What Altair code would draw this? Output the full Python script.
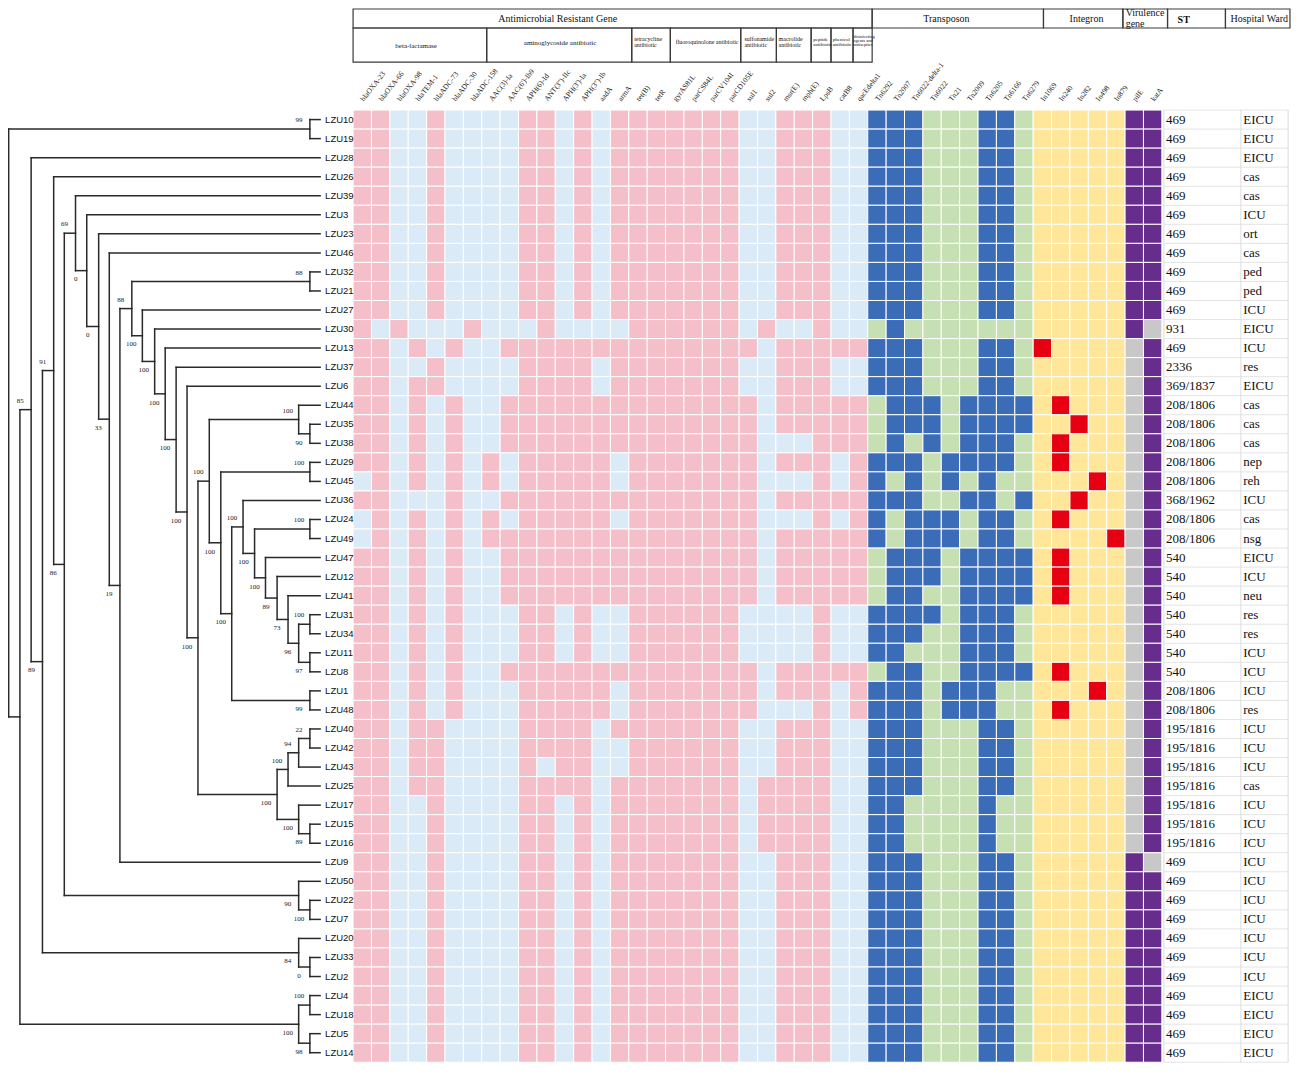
import altair as alt
import pandas as pd

# ------------------------------------------------------------------ data
strains = ["LZU10", "LZU19", "LZU28", "LZU26", "LZU39", "LZU3", "LZU23", "LZU46", "LZU32", "LZU21",
           "LZU27", "LZU30", "LZU13", "LZU37", "LZU6", "LZU44", "LZU35", "LZU38", "LZU29", "LZU45",
           "LZU36", "LZU24", "LZU49", "LZU47", "LZU12", "LZU41", "LZU31", "LZU34", "LZU11", "LZU8",
           "LZU1", "LZU48", "LZU40", "LZU42", "LZU43", "LZU25", "LZU17", "LZU15", "LZU16", "LZU9",
           "LZU50", "LZU22", "LZU7", "LZU20", "LZU33", "LZU2", "LZU4", "LZU18", "LZU5", "LZU14"]

st_types = ["469", "469", "469", "469", "469", "469", "469", "469", "469", "469",
            "469", "931", "469", "2336", "369/1837", "208/1806", "208/1806", "208/1806", "208/1806", "208/1806",
            "368/1962", "208/1806", "208/1806", "540", "540", "540", "540", "540", "540", "540",
            "208/1806", "208/1806", "195/1816", "195/1816", "195/1816", "195/1816", "195/1816", "195/1816", "195/1816", "469",
            "469", "469", "469", "469", "469", "469", "469", "469", "469", "469"]

wards = ["EICU", "EICU", "EICU", "cas", "cas", "ICU", "ort", "cas", "ped", "ped",
         "ICU", "EICU", "ICU", "res", "EICU", "cas", "cas", "cas", "nep", "reh",
         "ICU", "cas", "nsg", "EICU", "ICU", "neu", "res", "res", "ICU", "ICU",
         "ICU", "res", "ICU", "ICU", "ICU", "cas", "ICU", "ICU", "ICU", "ICU",
         "ICU", "ICU", "ICU", "ICU", "ICU", "ICU", "EICU", "EICU", "EICU", "EICU"]

arg_genes = ["blaOXA-23", "blaOXA-66", "blaOXA-98", "blaTEM-1", "blaADC-73", "blaADC-30", "blaADC-158",
             "AAC(3)-Ia", "AAC(6')-Ib9", "APH(6)-Id", "ANT(3'')-IIc", "APH(3')-Ia", "APH(3'')-Ib", "aadA",
             "armA", "tet(B)", "tetR", "gyrAS81L", "parCS84L", "parCV104I", "parCD105E", "sul1", "sul2",
             "msr(E)", "mph(E)", "LpsB", "catB8", "qacEdelta1"]
tn_genes = ["Tn6292", "Tn2007", "Tn6022-delta-1", "Tn6022", "Tn21", "Tn2009", "Tn6205", "Tn6166", "Tn6279"]
int_genes = ["In1069", "In240", "In282", "In498", "In879"]
vir_genes = ["pilE", "katA"]

# ARG classes (name lines, number of gene columns)
arg_classes = [(["beta-lactamase"], 7), (["aminoglycoside antibiotic"], 8),
               (["tetracycline", "antibiotic"], 2), (["fluoroquinolone antibiotic"], 4),
               (["sulfonamide", "antibiotic"], 2), (["macrolide", "antibiotic"], 2),
               (["peptide", "antibiotic"], 1), (["phenicol", "antibiotic"], 1),
               (["disinfecting", "agents and", "antiseptics"], 1)]

top_groups = ["Antimicrobial Resistant Gene", "Transposon", "Integron", "Virulence gene", "ST", "Hospital Ward"]

# 1 = gene present (one string per strain, in strain order)
arg_profiles = [
    "1100100001101011111110011100", "1100100001101011111110011100", "1100100001101011111110011100",
    "1100100001101011111110011100", "1100100001101011111110011100", "1100100001101011111110011100",
    "1100100001101011111110011100", "1100100001101011111110011100", "1100100001101011111110011100",
    "1100100001101011111110011100", "1100100001101011111110011100",
    "1010001000100001111110100100",  # LZU30
    "1101010011111111111111011111",  # LZU13
    "1100100001111011111110011100",  # LZU37
    "1101100001111011111110011100",  # LZU6
    "1101010011111111111111011111",  # LZU44
    "1101010011111111111111011111",  # LZU35
    "1101010011111111111111000111",  # LZU38
    "1101010101111101111111011101",  # LZU29
    "0101010101111101111111000101",  # LZU45
    "1100010011111111111111011111",  # LZU36
    "0101010101111101111111000101",  # LZU24
    "0101010111111111111111011111",  # LZU49
    "1101010011111111111111011111",  # LZU47
    "1101010011111111111111011111",  # LZU12
    "1101010011111111111111011111",  # LZU41
    "1101010001101001111110000100",  # LZU31
    "1101010001101001111110000100",  # LZU34
    "1101010001101001111110000100",  # LZU11
    "1101010011111111111111011111",  # LZU8
    "1101010001111101111111011101",  # LZU1
    "1101010001111101111111000101",  # LZU48
    "1101100001111011111110011100",  # LZU40
    "1101100001111001111110011100",  # LZU42
    "1101100001011001111110011100",  # LZU43
    "1101100001111011111110111100",  # LZU25
    "1100100001101011111110111100",  # LZU17
    "1100100001101011111110111100",  # LZU15
    "1100100001101011111110111100",  # LZU16
    "1100100001101011111110011100", "1100100001101011111110011100", "1100100001101011111110011100",
    "1100100001101011111110011100", "1100100001101011111110011100", "1100100001101011111110011100",
    "1100100001101011111110011100", "1100100001101011111110011100", "1100100001101011111110011100",
    "1100100001101011111110011100", "1100100001101011111110011100",
]

tn_profiles = [
    "111000110", "111000110", "111000110", "111000110", "111000110", "111000110",
    "111000110", "111000110", "111000110", "111000110", "111000110",
    "010000000", "111000110", "111000110", "111000110",
    "011101111", "011101111", "010101110", "111011110", "101010100", "111001101",
    "101110110", "101110110", "011101111", "011101111", "011001111",
    "111101110", "111001110", "110001110", "011001111", "111011100", "111011100",
    "111000110", "111000110", "111000110", "111000110",
    "110000100", "110000100", "110000100",
    "111000110", "111000110", "111000110", "111000110", "111000110", "111000110",
    "111000110", "111000110", "111000110", "111000110", "111000110",
]

int_profiles = [
    "00000", "00000", "00000", "00000", "00000", "00000", "00000", "00000", "00000", "00000",
    "00000", "00000", "10000", "00000", "00000", "01000", "00100", "01000", "01000", "00010",
    "00100", "01000", "00001", "01000", "01000", "01000", "00000", "00000", "00000", "01000",
    "00010", "01000", "00000", "00000", "00000", "00000", "00000", "00000", "00000", "00000",
    "00000", "00000", "00000", "00000", "00000", "00000", "00000", "00000", "00000", "00000",
]

vir_profiles = [
    "11", "11", "11", "11", "11", "11", "11", "11", "11", "11",
    "11", "10", "01", "01", "01", "01", "01", "01", "01", "01",
    "01", "01", "01", "01", "01", "01", "01", "01", "01", "01",
    "01", "01", "01", "01", "01", "01", "01", "01", "01", "10",
    "11", "11", "11", "11", "11", "11", "11", "11", "11", "11",
]

# dendrogram: node, upper child, lower child, depth, bootstrap, label side (a=above, b=below)
tree_nodes = [
    ("A1", "LZU10", "LZU19", 308.0, "99", "a"),
    ("A2", "LZU32", "LZU21", 308.0, "88", "a"),
    ("A3", "LZU35", "LZU38", 308.0, "90", "b"),
    ("A4", "LZU44", "A3", 296.7, "100", "a"),
    ("A5", "LZU29", "LZU45", 308.0, "100", "a"),
    ("A6", "LZU24", "LZU49", 308.0, "100", "a"),
    ("A7", "LZU31", "LZU34", 308.0, "100", "a"),
    ("A8", "LZU11", "LZU8", 308.0, "97", "b"),
    ("M9", "A7", "A8", 296.7, "96", "b"),
    ("M8", "LZU41", "M9", 286.0, "73", "b"),
    ("M7", "LZU12", "M8", 275.0, "89", "b"),
    ("M6", "LZU47", "M7", 263.3, "100", "b"),
    ("M5", "A6", "M6", 252.3, "100", "b"),
    ("M4", "LZU36", "M5", 240.7, "100", "a"),
    ("A9", "LZU1", "LZU48", 308.0, "99", "b"),
    ("M3", "M4", "A9", 229.3, "100", "b"),
    ("M2", "A5", "M3", 218.3, "100", "b"),
    ("M1", "A4", "M2", 206.7, "100", "a"),
    ("B1", "LZU40", "LZU42", 308.0, "22", "a"),
    ("C3", "B1", "LZU43", 296.7, "94", "a"),
    ("C1", "C3", "LZU25", 286.0, "100", "a"),
    ("B2", "LZU15", "LZU16", 308.0, "89", "b"),
    ("C2", "LZU17", "B2", 296.7, "100", "b"),
    ("C0", "C1", "C2", 275.0, "100", "b"),
    ("O6", "M1", "C0", 195.3, "100", "b"),
    ("O5", "LZU6", "O6", 184.3, "100", "b"),
    ("O4", "LZU37", "O5", 173.3, "100", "b"),
    ("O3", "LZU13", "O4", 162.3, "100", "b"),
    ("O2", "LZU30", "O3", 151.7, "100", "b"),
    ("O1", "LZU27", "O2", 139.3, "100", "b"),
    ("P", "A2", "O1", 128.7, "88", "a"),
    ("Q", "P", "LZU9", 116.7, "19", "b"),
    ("R", "LZU46", "Q", 106.0, "33", "b"),
    ("S", "LZU23", "R", 95.3, "0", "b"),
    ("T", "LZU3", "S", 83.3, "0", "b"),
    ("U", "LZU39", "T", 72.0, "69", "a"),
    ("D1", "LZU22", "LZU7", 308.0, "100", "b"),
    ("D0", "LZU50", "D1", 296.7, "90", "b"),
    ("V", "U", "D0", 60.7, "86", "b"),
    ("W", "LZU26", "V", 50.0, "91", "a"),
    ("E1", "LZU33", "LZU2", 308.0, "0", "b"),
    ("E0", "LZU20", "E1", 296.7, "84", "b"),
    ("Z", "W", "E0", 38.7, "89", "b"),
    ("Y", "LZU28", "Z", 27.3, "85", "a"),
    ("F1", "LZU4", "LZU18", 308.0, "100", "a"),
    ("F2", "LZU5", "LZU14", 308.0, "98", "b"),
    ("F0", "F1", "F2", 296.7, "100", "b"),
    ("X", "Y", "F0", 16.0, "", ""),
    ("ROOT", "A1", "X", 4.7, "", ""),
]
TIP = 318.3

# ------------------------------------------------------------------ layout
W, H = 1283, 1056
def px(rx):
    return (rx - 4.0) * W / 1292.0
def py(ry):
    return (ry - 3.0) * H / 1073.0

CELL = 18.51
GX0 = 351.5
GY0 = 106.7
ROWH = 19.35
NCOLS_SPAN = 51

SERIF = "Liberation Serif"
SANS = "Liberation Sans"

tree_x = alt.Scale(domain=[0, TIP], range=[px(0), px(TIP)], nice=False, zero=False)
col_x = alt.Scale(domain=[0, NCOLS_SPAN], range=[px(GX0), px(GX0 + NCOLS_SPAN * CELL)], nice=False, zero=False)
row_y = alt.Scale(domain=[-0.5, 49.5], range=[py(GY0), py(GY0 + 50 * ROWH)], nice=False, zero=False)
head_y = alt.Scale(domain=[0, 110], range=[py(0), py(110)], nice=False, zero=False)

for p in arg_profiles:
    assert len(p) == 28
assert len(arg_profiles) == len(tn_profiles) == len(int_profiles) == len(vir_profiles) == 50

# ------------------------------------------------------------------ tree
depth = {s: TIP for s in strains}
ypos = {s: i for i, s in enumerate(strains)}
for name, a, b, d, sup, side in tree_nodes:
    depth[name] = d
    ypos[name] = (ypos[a] + ypos[b]) / 2.0
segs, boots = [], []
for name, a, b, d, sup, side in tree_nodes:
    segs.append(dict(x=d, x2=d, y=ypos[a], y2=ypos[b]))
    for c in (a, b):
        segs.append(dict(x=d, x2=depth[c], y=ypos[c], y2=ypos[c]))
    if sup:
        boots.append(dict(x=d, y=ypos[name] + (-0.46 if side == "a" else 0.46), t=sup))
seg_df = pd.DataFrame(segs)
boot_df = pd.DataFrame(boots)
leaf_df = pd.DataFrame(dict(name=strains, x=[TIP] * 50, row=list(range(50))))

tree_lines = alt.Chart(seg_df).mark_rule(color="#2a2a2a", strokeWidth=1.5, strokeCap="square").encode(
    x=alt.X("x:Q", scale=tree_x, axis=None), x2="x2:Q",
    y=alt.Y("y:Q", scale=row_y, axis=None), y2="y2:Q")
tree_leaves = alt.Chart(leaf_df).mark_text(align="left", baseline="middle", dx=5, font=SANS,
                                           fontSize=9.5, color="#111").encode(
    x=alt.X("x:Q", scale=tree_x, axis=None), y=alt.Y("row:Q", scale=row_y, axis=None), text="name:N")
tree_boot = alt.Chart(boot_df).mark_text(align="center", baseline="middle", dx=-11, font=SERIF,
                                         fontSize=7, color="#222").encode(
    x=alt.X("x:Q", scale=tree_x, axis=None), y=alt.Y("y:Q", scale=row_y, axis=None), text="t:N")

# ------------------------------------------------------------------ heatmap
cells = []
blocks = [("arg", arg_profiles, 0), ("tn", tn_profiles, 28), ("in", int_profiles, 37), ("vir", vir_profiles, 42)]
for r in range(50):
    for key, prof, off in blocks:
        for i, ch in enumerate(prof[r]):
            cells.append(dict(row=r, col=off + i, cat=key + ch))
cell_df = pd.DataFrame(cells)
cat_dom = ["arg1", "arg0", "tn1", "tn0", "in1", "in0", "vir1", "vir0"]
cat_rng = ["#F5BFCA", "#DAEAF7", "#3B6CB7", "#C6E0B4", "#E60012", "#FFE699", "#662D8C", "#C8C8C8"]
heat = alt.Chart(cell_df).transform_calculate(
    c2="datum.col + 1", r0="datum.row - 0.5", r1="datum.row + 0.5"
).mark_rect(stroke="white", strokeWidth=1).encode(
    x=alt.X("col:Q", scale=col_x, axis=None), x2="c2:Q",
    y=alt.Y("r0:Q", scale=row_y, axis=None), y2="r1:Q",
    color=alt.Color("cat:N", scale=alt.Scale(domain=cat_dom, range=cat_rng), legend=None))

# ST / ward table
ST_X, WARD_X = 44.22, 48.43
tab_df = pd.DataFrame(dict(row=list(range(50)), st=st_types, ward=wards,
                           sx=[ST_X] * 50, wx=[WARD_X] * 50))
st_text = alt.Chart(tab_df).mark_text(align="left", baseline="middle", font=SERIF, fontSize=13,
                                      color="#111").encode(
    x=alt.X("sx:Q", scale=col_x, axis=None), y=alt.Y("row:Q", scale=row_y, axis=None), text="st:N")
ward_text = alt.Chart(tab_df).mark_text(align="left", baseline="middle", font=SERIF, fontSize=13,
                                        color="#111").encode(
    x=alt.X("wx:Q", scale=col_x, axis=None), y=alt.Y("row:Q", scale=row_y, axis=None), text="ward:N")

TAB_EDGES = [44.11, 48.3, 50.87]
hl_df = pd.DataFrame(dict(y=[r - 0.5 for r in range(51)], x=[TAB_EDGES[0]] * 51, x2=[TAB_EDGES[-1]] * 51))
vl_df = pd.DataFrame(dict(x=TAB_EDGES, y=[-0.5] * 3, y2=[49.5] * 3))
tab_h = alt.Chart(hl_df).mark_rule(color="#e4e4e4", strokeWidth=1).encode(
    x=alt.X("x:Q", scale=col_x, axis=None), x2="x2:Q", y=alt.Y("y:Q", scale=row_y, axis=None))
tab_v = alt.Chart(vl_df).mark_rule(color="#dcdcdc", strokeWidth=1).encode(
    x=alt.X("x:Q", scale=col_x, axis=None), y=alt.Y("y:Q", scale=row_y, axis=None), y2="y2:Q")

# ------------------------------------------------------------------ header
all_genes = arg_genes + tn_genes + int_genes + vir_genes
lab_df = pd.DataFrame(dict(name=all_genes, col=list(range(len(all_genes))), yy=[97] * len(all_genes)))
col_labels = alt.Chart(lab_df).transform_calculate(xc="datum.col + 0.5").mark_text(
    align="left", baseline="middle", angle=308, font=SERIF, fontSize=7.5, color="#222").encode(
    x=alt.X("xc:Q", scale=col_x, axis=None), y=alt.Y("yy:Q", scale=head_y, axis=None), text="name:N")

TOP_EDGES = [0, 28.24, 37.56, 41.88, 44.31, 47.46, 50.97]
SUB_EDGES = [0, 7.27, 15.16, 17.26, 21.09, 23.03, 24.92, 26.0, 27.2, 28.24]
TOP_Y = (4.0, 23.3)
SUB_Y = (23.3, 58.0)
boxes = []
for i in range(len(top_groups)):
    boxes.append(dict(x=TOP_EDGES[i], x2=TOP_EDGES[i + 1], y=TOP_Y[0], y2=TOP_Y[1]))
for i in range(len(arg_classes)):
    boxes.append(dict(x=SUB_EDGES[i], x2=SUB_EDGES[i + 1], y=SUB_Y[0], y2=SUB_Y[1]))
box_df = pd.DataFrame(boxes)
head_boxes = alt.Chart(box_df).mark_rect(fillOpacity=0, stroke="#3a3a3a", strokeWidth=1.2).encode(
    x=alt.X("x:Q", scale=col_x, axis=None), x2="x2:Q",
    y=alt.Y("y:Q", scale=head_y, axis=None), y2="y2:Q")

# header texts: (text, x, y, size, align, weight)
htexts = [
    (top_groups[0], 11.13, 14.0, 10, "center", "normal"),
    (top_groups[1], 32.28, 14.0, 10, "center", "normal"),
    (top_groups[2], 39.9, 14.0, 10, "center", "normal"),
    ("Virulence", 42.03, 8.5, 10, "left", "normal"),
    ("gene", 42.03, 19.0, 10, "left", "normal"),
    (top_groups[4], 45.19, 15.0, 10, "center", "bold"),
    (top_groups[5], 49.3, 14.0, 10, "center", "normal"),
]
sub_pos = [(3.43, "center", 7, [42.0]), (11.26, "center", 7, [39.0]),
           (15.29, "left", 6, [34.0, 41.0]), (19.26, "center", 6, [38.0]),
           (21.29, "left", 6, [34.0, 41.0]), (23.15, "left", 6, [34.0, 41.0]),
           (25.03, "left", 5, [34.0, 39.5]), (26.09, "left", 5, [34.0, 39.5]),
           (27.23, "left", 4.5, [32.0, 36.5, 41.0])]
for (lines, n), (x, al, sz, ys) in zip(arg_classes, sub_pos):
    for ln, yy in zip(lines, ys):
        htexts.append((ln, x, yy, sz, al, "normal"))
ht_df = pd.DataFrame(htexts, columns=["t", "x", "y", "s", "a", "w"])

def htext(df, align, weight):
    return alt.Chart(df).mark_text(align=align, baseline="middle", font=SERIF, fontWeight=weight,
                                   color="#111").encode(
        x=alt.X("x:Q", scale=col_x, axis=None), y=alt.Y("y:Q", scale=head_y, axis=None),
        text="t:N", size=alt.Size("s:Q", scale=None, legend=None))

head_layers = []
for (al, wt), sub in ht_df.groupby(["a", "w"]):
    head_layers.append(htext(sub.reset_index(drop=True), al, wt))

# ------------------------------------------------------------------ compose
chart = alt.layer(
    heat, tab_h, tab_v, st_text, ward_text,
    tree_lines, tree_leaves, tree_boot,
    col_labels, head_boxes, *head_layers
).resolve_scale(
    x="independent", y="independent", color="independent", size="independent"
).properties(
    width=W, height=H, padding=0, autosize=alt.AutoSizeParams(type="none")
).configure_view(stroke=None)

chart.save("out.html", embed_options={"renderer": "svg", "actions": False})
